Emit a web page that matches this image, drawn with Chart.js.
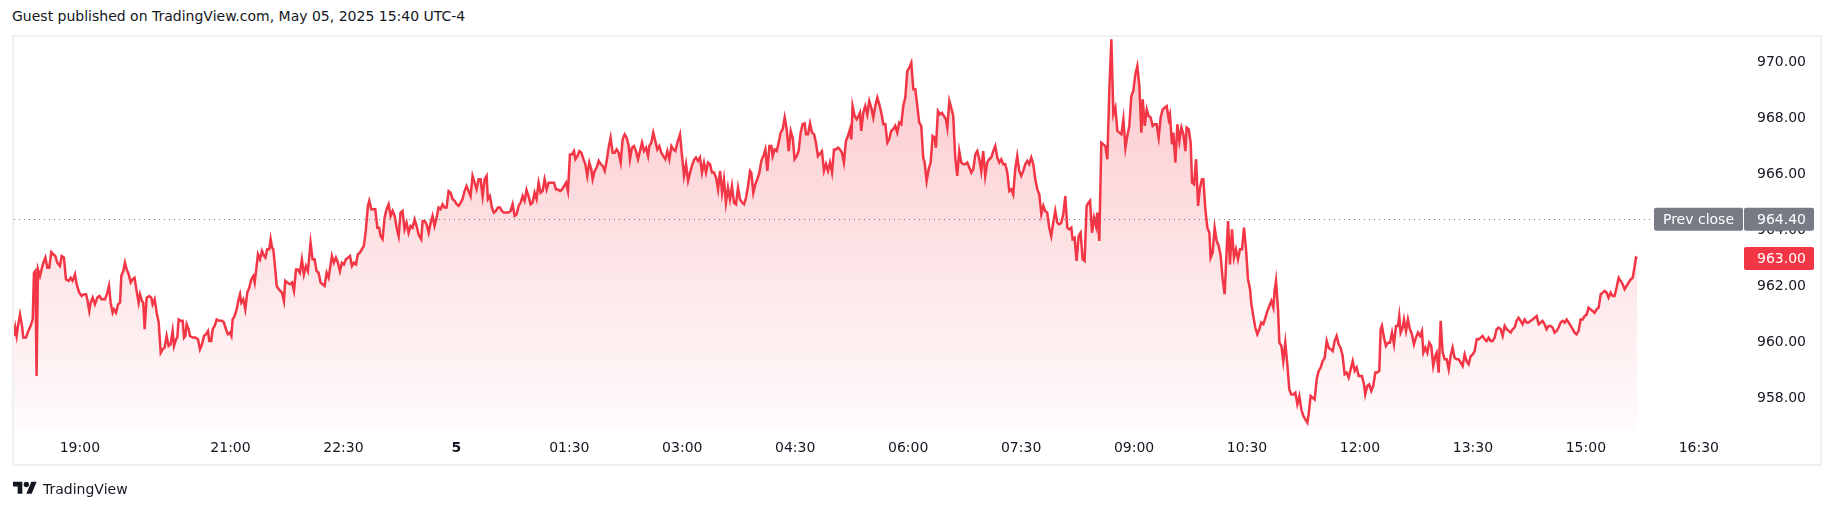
<!DOCTYPE html>
<html>
<head>
<meta charset="utf-8">
<script src="https://cdn.jsdelivr.net/npm/chart.js@4.4.1/dist/chart.umd.min.js"></script>
<style>
    body { margin: 0; background: #ffffff; width: 1835px; height: 513px; overflow: hidden; position: relative; font-family: "DejaVu Sans", sans-serif; color: #131722; }
    #cabecalho { position: absolute; left: 12px; top: 6px; font-size: 14px; line-height: 20px; }
    #moldura { position: absolute; left: 12px; top: 35px; width: 1810px; height: 431px; border: 2px solid #f0f0f0; box-sizing: border-box; pointer-events: none; }
    #rodape { position: absolute; left: 13px; top: 479px; font-size: 14px; line-height: 18px; display: flex; align-items: center; }
    #rodape svg { margin-right: 6px; }
    canvas { position: absolute; left: 0; top: 0; }
</style>
</head>
<body>
<div id="cabecalho">Guest published on TradingView.com, May 05, 2025 15:40 UTC-4</div>
<canvas id="grafico" width="1835" height="513"></canvas>
<div id="moldura"></div>
<div id="rodape">
    <svg width="24" height="19" viewBox="0 0 36 28"><path d="M14 22H7V11H0V4h14v18zM28 22h-8l7.5-18h8L28 22z" fill="#131722"/><circle cx="20" cy="8" r="4" fill="#131722"/></svg>
    <span>TradingView</span>
</div>
<script>
// minutos desde 18:00 de 04/05
var tempos = [
    7.5, 8.5, 9.6, 10.7, 12.3, 13.9, 14.9, 17.1, 18.9, 20.8, 22.4, 23.4, 24.5, 25.5, 26.6, 28.2, 29.5, 30.9, 32.5, 34.1,
    35.6, 37.2, 38.8, 40.4, 42.0, 44.1, 45.5, 47.3, 48.9, 51.1, 52.6, 54.2, 56.1, 57.4, 59.5, 61.4, 63.3, 64.9, 65.9, 67.5,
    68.6, 70.2, 72.0, 73.9, 75.5, 77.3, 80.0, 81.9, 83.2, 84.5, 86.1, 87.2, 88.8, 90.4, 92.0, 93.0, 94.6, 95.9, 97.3, 98.9,
    100.5, 102.0, 103.6, 105.2, 106.8, 107.9, 109.5, 110.5, 111.6, 113.2, 115.3, 116.9, 118.0, 119.6, 121.2, 122.8, 124.4, 125.9, 127.5, 129.1,
    130.7, 132.3, 133.9, 135.0, 136.6, 137.6, 138.7, 140.3, 141.9, 143.0, 144.0, 145.1, 146.7, 147.7, 149.9, 152.0, 154.1, 155.7, 157.3, 158.9,
    160.5, 162.1, 163.1, 164.7, 165.8, 167.4, 169.0, 171.1, 173.2, 174.8, 176.4, 178.0, 179.6, 180.7, 181.7, 183.3, 184.9, 186.5, 187.6, 188.6,
    190.2, 191.8, 193.4, 195.0, 196.6, 198.2, 199.3, 200.8, 201.9, 203.5, 205.1, 206.7, 207.8, 209.3, 210.9, 212.0, 213.1, 214.1, 215.7, 216.8,
    218.4, 221.0, 222.6, 223.6, 225.2, 227.4, 229.0, 230.6, 232.2, 233.7, 235.3, 236.9, 238.5, 240.1, 241.7, 243.8, 245.4, 247.0, 248.6, 250.2,
    251.8, 253.4, 255.0, 256.6, 258.2, 259.2, 260.8, 262.4, 264.0, 265.6, 267.2, 268.8, 270.4, 272.0, 273.6, 275.2, 276.8, 278.4, 280.0, 281.5,
    283.1, 284.7, 286.3, 287.9, 289.5, 290.6, 292.2, 293.8, 295.4, 297.0, 298.5, 299.6, 301.2, 302.8, 304.4, 306.0, 307.6, 309.2, 310.8, 312.4,
    314.0, 315.5, 317.1, 318.7, 320.3, 321.9, 323.5, 325.1, 326.7, 328.3, 329.9, 332.0, 333.1, 334.7, 336.3, 337.9, 339.5, 341.0, 342.6, 344.2,
    345.8, 347.4, 349.0, 350.6, 352.2, 353.8, 355.4, 357.0, 358.6, 360.2, 361.8, 363.4, 364.9, 366.5, 368.1, 369.7, 371.3, 372.9, 374.5, 376.1,
    377.7, 379.3, 380.9, 382.5, 384.1, 385.1, 386.7, 388.3, 389.9, 391.5, 393.1, 394.7, 396.3, 397.9, 400.0, 401.6, 403.2, 404.8, 406.4, 408.0,
    409.6, 411.2, 412.8, 414.3, 415.9, 417.5, 419.1, 420.7, 422.3, 423.9, 425.5, 427.1, 428.7, 430.3, 431.9, 433.5, 436.2, 437.8, 439.4, 441.0,
    442.6, 444.2, 445.8, 447.4, 448.9, 450.5, 452.1, 453.7, 454.8, 456.4, 458.0, 459.6, 461.2, 462.8, 464.3, 465.9, 467.5, 468.6, 470.2, 471.8,
    473.4, 475.0, 476.6, 478.2, 479.8, 481.3, 482.9, 484.5, 486.1, 487.7, 489.3, 490.9, 492.5, 494.1, 495.7, 497.3, 498.3, 499.9, 501.5, 503.1,
    504.7, 506.3, 507.9, 509.5, 511.1, 512.7, 513.7, 515.3, 516.9, 518.5, 520.1, 521.7, 523.3, 524.9, 526.5, 528.1, 529.7, 531.3, 532.9, 534.5,
    536.1, 538.2, 539.8, 541.4, 543.0, 544.6, 546.2, 547.7, 549.3, 550.9, 552.5, 554.1, 555.7, 557.3, 558.9, 560.5, 562.1, 563.7, 565.3, 566.9,
    568.5, 570.1, 571.7, 573.2, 574.8, 576.4, 578.0, 579.6, 581.2, 582.8, 584.4, 586.0, 587.6, 589.2, 590.8, 592.4, 594.0, 595.0, 596.6, 598.2,
    599.8, 601.4, 603.0, 604.6, 606.2, 607.8, 609.4, 611.0, 612.0, 613.6, 615.2, 616.8, 618.4, 620.0, 621.6, 623.2, 624.8, 626.4, 628.0, 629.5,
    631.1, 632.7, 634.3, 635.9, 637.5, 638.6, 640.2, 641.8, 643.4, 645.0, 646.5, 648.1, 651.3, 652.9, 654.5, 656.1, 657.7, 659.3, 660.9, 662.4,
    664.0, 665.6, 667.2, 668.8, 670.4, 672.0, 673.6, 674.7, 675.7, 677.3, 678.9, 680.5, 681.6, 682.6, 684.2, 685.8, 687.4, 689.0, 690.6, 692.2,
    693.8, 695.4, 697.0, 698.6, 700.2, 701.8, 703.4, 704.9, 706.5, 708.1, 709.7, 711.3, 712.9, 714.5, 716.1, 717.7, 719.3, 720.9, 722.5, 724.1,
    725.7, 727.3, 728.8, 730.4, 732.0, 733.1, 734.7, 736.3, 737.9, 739.5, 741.1, 742.1, 743.7, 745.3, 746.9, 748.5, 750.1, 751.2, 752.8, 754.3,
    755.9, 757.5, 759.1, 760.7, 762.3, 763.9, 765.5, 767.1, 768.7, 770.3, 771.9, 773.5, 775.1, 776.7, 778.2, 779.8, 781.4, 783.0, 784.6, 786.2,
    787.8, 789.4, 791.0, 792.6, 794.2, 795.8, 797.4, 799.0, 800.6, 802.2, 803.7, 805.3, 806.9, 808.5, 810.1, 811.7, 813.3, 814.9, 816.5, 818.1,
    819.7, 821.3, 822.9, 824.5, 826.1, 827.7, 829.2, 830.8, 832.4, 834.0, 835.6, 837.2, 838.8, 840.4, 842.0, 843.6, 845.2, 846.8, 848.4, 850.0,
    851.0, 852.6, 854.2, 855.8, 857.4, 859.0, 860.6, 862.2, 863.8, 864.9, 866.5, 868.1, 869.7, 870.7, 872.3, 873.9, 875.5, 877.1, 878.7, 880.3,
    881.9, 883.5, 885.1, 886.7, 888.3, 889.9, 891.5, 893.1, 894.6, 896.2, 897.8, 899.4, 901.0, 902.6, 904.2, 905.8, 906.9, 908.5, 910.1, 911.6,
    913.2, 914.8, 916.4, 918.0, 919.6, 921.2, 922.8, 924.4, 926.0, 927.6, 928.6, 930.2, 931.3, 932.9, 934.5, 936.1, 937.7, 939.3, 940.9, 941.9,
    943.5, 945.1, 946.2, 947.8, 949.4, 951.0, 952.5, 954.1, 955.2, 956.8, 958.4, 960.0, 961.0, 962.6, 964.2, 965.8, 967.4, 969.0, 970.6, 972.2,
    973.8, 974.9, 976.4, 978.0, 979.6, 981.2, 982.8, 984.4, 986.0, 987.6, 989.2, 990.8, 992.4, 993.5, 995.0, 996.6, 998.2, 999.8, 1001.4, 1003.0,
    1004.6, 1006.2, 1007.8, 1009.4, 1011.0, 1012.0, 1013.1, 1014.7, 1015.8, 1017.4, 1018.9, 1020.5, 1022.1, 1023.7, 1025.3, 1026.9, 1028.5, 1030.1, 1031.7, 1033.3,
    1034.9, 1036.5, 1038.1, 1039.1, 1040.7, 1042.3, 1043.9, 1045.5, 1047.1, 1048.7, 1050.3, 1051.9, 1053.5, 1055.1, 1056.7, 1058.3, 1059.8, 1061.4, 1063.0, 1064.6,
    1066.2, 1067.8, 1069.4, 1071.0, 1072.6, 1074.2, 1075.8, 1077.4, 1079.0, 1080.0, 1081.6, 1083.2, 1084.2, 1085.8, 1087.4, 1089.0, 1090.6, 1092.2, 1093.8, 1095.4,
    1096.5, 1097.5, 1099.1, 1100.7, 1102.3, 1103.9, 1105.5, 1107.1, 1108.7, 1110.3, 1111.3, 1112.4, 1114.0, 1115.1, 1116.7, 1118.2, 1119.8, 1121.4, 1123.0, 1124.6,
    1126.2, 1127.8, 1129.4, 1130.5, 1132.1, 1133.7, 1135.2, 1136.8, 1138.4, 1140.0, 1141.1, 1142.7, 1144.3, 1145.9, 1147.5, 1149.1, 1150.7, 1152.2, 1153.8, 1155.4,
    1157.0, 1158.6, 1160.2, 1161.8, 1163.4, 1165.0, 1166.6, 1168.2, 1169.8, 1171.4, 1173.0, 1174.6, 1176.1, 1177.7, 1179.3, 1180.9, 1182.5, 1184.1, 1185.7, 1187.3,
    1188.9, 1190.5, 1192.1, 1193.7, 1195.3, 1196.9, 1198.5, 1200.1, 1201.6, 1203.2, 1204.8, 1206.4, 1208.0, 1209.6, 1211.2, 1212.8, 1214.4, 1216.0, 1217.6, 1219.2,
    1220.8, 1222.4, 1224.0, 1225.5, 1227.1, 1228.7, 1230.3, 1231.9, 1233.5, 1235.1, 1236.7, 1238.3, 1239.9, 1241.5, 1243.1, 1244.7, 1246.3, 1247.9, 1249.5, 1251.0,
    1252.6, 1254.2, 1255.8, 1257.4, 1259.0, 1260.6, 1262.2, 1263.8, 1265.4, 1267.0, 1268.6, 1270.2, 1271.8, 1273.4, 1274.9, 1276.5, 1278.1, 1279.7, 1281.3, 1282.9,
    1284.5, 1286.1, 1287.7, 1289.3, 1290.9, 1292.5, 1294.1, 1295.7, 1297.3, 1298.9, 1299.9, 1301.0
];

var precos = [
    960.23, 960.53, 960.23, 960.59, 961.00, 960.59, 960.17, 960.17, 960.41, 960.59, 960.82, 962.49, 962.55, 958.80, 962.61, 962.37, 962.61, 962.85, 963.03, 962.67,
    962.67, 963.23, 963.15, 963.09, 962.85, 962.73, 963.09, 963.03, 962.25, 962.20, 962.31, 962.20, 962.43, 962.08, 961.78, 961.66, 961.72, 961.72, 961.54, 961.12,
    961.42, 961.60, 961.36, 961.60, 961.66, 961.54, 961.54, 961.78, 962.02, 961.42, 961.06, 961.18, 961.06, 961.36, 961.42, 962.37, 962.55, 962.85, 962.61, 962.43,
    962.14, 962.25, 962.31, 961.84, 961.42, 961.72, 961.48, 961.42, 960.47, 961.60, 961.66, 961.60, 961.36, 961.54, 961.06, 960.71, 959.63, 959.75, 959.81, 960.23,
    959.87, 959.93, 960.41, 959.87, 960.11, 960.17, 960.82, 960.77, 960.77, 960.17, 960.23, 960.65, 960.47, 960.23, 960.17, 960.17, 960.11, 959.75, 959.93, 960.23,
    960.29, 960.41, 960.05, 960.05, 960.47, 960.59, 960.82, 960.77, 960.77, 960.71, 960.47, 960.29, 960.35, 960.23, 960.82, 960.94, 961.18, 961.54, 961.72, 961.42,
    961.54, 961.18, 961.78, 961.96, 962.25, 962.37, 962.14, 962.73, 963.15, 962.97, 963.27, 963.09, 963.03, 963.33, 963.33, 963.69, 963.39, 963.33, 962.61, 962.02,
    961.90, 961.78, 961.48, 962.20, 962.14, 962.08, 962.14, 961.84, 962.61, 962.61, 962.49, 962.97, 962.43, 962.73, 962.55, 963.57, 962.97, 962.97, 962.55, 962.49,
    962.14, 962.08, 962.02, 962.49, 962.31, 962.61, 963.09, 962.85, 963.03, 962.85, 962.55, 962.85, 962.79, 962.97, 963.03, 963.09, 962.73, 962.85, 962.79, 963.15,
    963.21, 963.33, 963.45, 964.04, 964.88, 965.06, 964.76, 964.76, 964.76, 964.10, 964.10, 963.80, 963.69, 964.46, 964.76, 964.94, 964.52, 964.70, 964.52, 964.10,
    963.80, 964.64, 964.70, 964.04, 964.28, 963.92, 964.16, 964.10, 964.40, 964.16, 963.86, 963.69, 964.34, 964.34, 964.22, 963.92, 964.28, 964.52, 964.16, 964.46,
    964.82, 964.76, 964.94, 964.82, 964.82, 965.41, 965.35, 965.12, 965.06, 964.94, 964.88, 965.00, 965.12, 965.41, 965.59, 965.41, 965.23, 965.95, 965.71, 965.47,
    965.83, 965.83, 965.23, 965.83, 965.95, 965.12, 965.23, 964.82, 964.64, 964.70, 964.82, 964.82, 964.70, 964.64, 964.64, 964.64, 964.70, 964.94, 964.52, 964.58,
    964.88, 965.00, 965.23, 965.06, 965.45, 965.23, 964.94, 965.00, 965.35, 965.12, 965.71, 965.35, 965.41, 965.83, 965.47, 965.71, 965.71, 965.71, 965.47, 965.47,
    965.41, 965.47, 965.59, 965.71, 965.41, 966.72, 966.72, 966.84, 966.55, 966.66, 966.84, 966.78, 966.55, 966.37, 965.95, 966.43, 966.19, 965.83, 966.13, 966.25,
    966.49, 966.37, 966.31, 966.13, 966.49, 966.96, 967.32, 966.78, 966.78, 966.90, 966.78, 966.43, 967.26, 967.44, 967.32, 967.02, 966.55, 966.96, 967.02, 966.84,
    966.55, 966.84, 967.14, 966.84, 966.96, 966.66, 967.02, 967.14, 967.50, 967.20, 966.90, 967.02, 966.78, 966.66, 966.55, 966.84, 966.55, 967.02, 966.90, 966.84,
    967.14, 967.44, 966.66, 965.95, 966.37, 965.77, 966.07, 966.31, 966.52, 966.61, 966.49, 966.61, 966.07, 966.43, 966.07, 966.43, 966.37, 966.07, 966.07, 965.89,
    965.47, 966.13, 965.35, 965.83, 965.00, 965.53, 965.12, 965.59, 965.00, 964.94, 965.53, 965.12, 965.00, 964.94, 965.17, 965.59, 966.13, 966.07, 965.35, 965.65,
    965.83, 966.07, 966.49, 966.66, 966.90, 966.13, 967.02, 967.02, 966.66, 966.90, 966.84, 967.14, 967.50, 967.62, 968.04, 967.62, 966.84, 967.56, 967.32, 966.55,
    966.66, 966.84, 967.50, 967.80, 967.83, 967.44, 967.44, 967.83, 967.50, 967.44, 967.14, 966.66, 966.84, 966.13, 966.37, 966.13, 966.43, 966.07, 966.90, 966.90,
    966.96, 966.90, 966.78, 966.43, 967.20, 967.38, 967.62, 967.26, 968.45, 968.10, 967.98, 968.10, 968.21, 967.56, 968.21, 968.45, 968.15, 968.63, 968.39, 968.04,
    968.45, 968.75, 968.51, 968.21, 967.80, 967.80, 967.14, 967.26, 967.56, 967.62, 967.74, 967.50, 967.86, 967.80, 968.45, 968.75, 969.70, 969.82, 970.00, 969.05,
    969.05, 968.45, 967.86, 967.74, 966.61, 966.43, 965.77, 966.19, 966.43, 967.38, 967.32, 966.96, 968.27, 968.15, 968.21, 968.10, 967.98, 967.68, 968.63, 968.39,
    968.10, 966.61, 965.95, 966.84, 966.43, 966.37, 966.37, 966.43, 966.25, 966.07, 966.19, 966.72, 966.84, 966.55, 966.13, 966.84, 965.95, 966.43, 966.55, 966.61,
    966.84, 967.02, 966.61, 966.43, 966.55, 966.37, 966.37, 966.07, 965.41, 965.47, 965.29, 966.19, 966.66, 966.13, 965.95, 966.13, 966.37, 966.49, 966.37, 966.61,
    966.37, 965.83, 965.47, 965.29, 964.58, 964.88, 964.70, 964.64, 964.10, 963.80, 964.28, 964.70, 964.28, 964.22, 964.28, 964.58, 965.23, 964.10, 964.04, 964.10,
    963.69, 963.74, 962.91, 963.80, 963.92, 962.97, 962.91, 964.88, 965.00, 965.06, 963.92, 964.46, 964.16, 964.64, 963.63, 967.14, 967.08, 967.02, 966.55, 969.05,
    970.84, 968.15, 968.39, 967.56, 967.50, 967.44, 967.98, 966.96, 967.38, 967.74, 968.81, 968.99, 969.58, 969.88, 969.17, 967.50, 968.69, 967.74, 968.33, 968.10,
    968.04, 967.74, 967.80, 967.80, 967.32, 968.04, 968.33, 968.39, 968.45, 967.98, 968.15, 967.08, 967.50, 966.43, 967.80, 967.20, 967.68, 967.44, 966.84, 967.68,
    967.62, 967.14, 965.71, 965.65, 966.55, 964.88, 965.53, 965.83, 965.83, 964.76, 964.10, 963.92, 963.03, 963.21, 964.10, 963.63, 963.45, 963.09, 962.25, 961.72,
    963.33, 964.34, 962.79, 964.04, 963.03, 963.33, 962.97, 963.33, 963.33, 964.10, 963.33, 962.25, 961.90, 961.36, 960.94, 960.53, 960.29, 960.47, 960.71, 960.65,
    960.88, 961.12, 961.30, 961.48, 961.24, 961.84, 962.20, 961.18, 959.99, 959.87, 959.33, 959.99, 959.22, 958.32, 958.14, 958.14, 958.20, 957.79, 958.08, 957.60,
    957.37, 957.25, 957.13, 957.43, 958.08, 958.02, 957.96, 958.68, 958.98, 959.10, 959.33, 959.45, 960.05, 959.81, 959.75, 959.69, 960.05, 960.23, 959.93, 959.81,
    959.51, 958.86, 958.92, 958.74, 959.04, 959.33, 958.98, 959.10, 958.80, 958.80, 958.80, 958.50, 958.14, 958.44, 958.50, 958.26, 958.44, 958.92, 958.92, 958.98,
    960.47, 960.59, 960.17, 959.87, 959.99, 959.99, 960.35, 959.93, 960.59, 960.59, 960.94, 960.35, 960.53, 960.82, 960.41, 960.82, 960.47, 960.29, 959.93, 960.17,
    960.35, 960.23, 960.41, 959.63, 959.81, 959.63, 959.99, 959.87, 959.16, 959.51, 959.63, 958.92, 960.77, 959.63, 959.40, 959.40, 959.04, 959.51, 959.81, 959.45,
    959.40, 959.40, 959.28, 959.16, 959.57, 959.33, 959.22, 959.51, 959.57, 959.69, 960.11, 960.11, 960.17, 960.23, 960.11, 960.05, 960.17, 960.05, 960.05, 960.17,
    960.47, 960.53, 960.47, 960.23, 960.59, 960.47, 960.41, 960.35, 960.47, 960.53, 960.77, 960.88, 960.77, 960.65, 960.82, 960.71, 960.71, 960.77, 960.82, 960.88,
    960.94, 960.65, 960.71, 960.77, 960.65, 960.47, 960.59, 960.59, 960.53, 960.35, 960.41, 960.53, 960.71, 960.77, 960.71, 960.82, 960.71, 960.59, 960.47, 960.35,
    960.29, 960.41, 960.82, 960.82, 960.94, 961.00, 961.24, 961.18, 961.12, 961.06, 961.18, 961.24, 961.72, 961.78, 961.84, 961.78, 961.60, 961.78, 961.66, 961.66,
    961.96, 962.31, 962.20, 962.08, 961.90, 962.02, 962.14, 962.25, 962.31, 962.73, 963.03, 963.00
];

// eixo x (minutos desde 18:00) e rótulos
var xTicks = [60, 180, 270, 360, 450, 540, 630, 720, 810, 900, 990, 1080, 1170, 1260, 1350];
var xRotulos = ['19:00', '21:00', '22:30', '5', '01:30', '03:00', '04:30', '06:00', '07:30', '09:00', '10:30', '12:00', '13:30', '15:00', '16:30'];
var yTicks = [958, 960, 962, 964, 966, 968, 970];

var fechamentoAnterior = 964.40;
var ultimoPreco = 963.00;

var vermelho = '#f23645';
var fonte = '"DejaVu Sans", sans-serif';

// linha pontilhada e etiquetas de preço no eixo direito
var linhasPreco = {
    id: 'linhasPreco',
    afterDatasetsDraw: function (chart) {
        var ctx = chart.ctx;
        var area = chart.chartArea;
        var y = Math.round(chart.scales.y.getPixelForValue(fechamentoAnterior)) + 0.5;
        ctx.save();
        ctx.strokeStyle = '#787b86';
        ctx.lineWidth = 1;
        ctx.setLineDash([1, 4]);
        ctx.beginPath();
        ctx.moveTo(area.left, y);
        ctx.lineTo(area.right, y);
        ctx.stroke();
        ctx.restore();
    },
    afterDraw: function (chart) {
        var ctx = chart.ctx;
        var area = chart.chartArea;
        var escalaY = chart.scales.y;
        var xTexto = 1806;
        var alt = 23;

        ctx.save();
        ctx.font = '14px ' + fonte;
        ctx.textBaseline = 'middle';

        // Prev close
        var yP = escalaY.getPixelForValue(fechamentoAnterior);
        ctx.fillStyle = '#787b86';
        ctx.beginPath();
        ctx.roundRect(area.right - 91, yP - alt / 2, 89, alt, 2);
        ctx.fill();
        ctx.beginPath();
        ctx.roundRect(area.right - 1, yP - alt / 2, 70, alt, 2);
        ctx.fill();
        ctx.fillStyle = '#ffffff';
        ctx.textAlign = 'center';
        ctx.fillText('Prev close', area.right - 91 + 89 / 2, yP + 1);
        ctx.textAlign = 'right';
        ctx.fillText(fechamentoAnterior.toFixed(2), xTexto, yP + 1);

        // último preço
        var yU = escalaY.getPixelForValue(ultimoPreco);
        ctx.fillStyle = vermelho;
        ctx.beginPath();
        ctx.roundRect(area.right - 1, yU - alt / 2, 70, alt, 2);
        ctx.fill();
        ctx.fillStyle = '#ffffff';
        ctx.fillText(ultimoPreco.toFixed(2), xTexto, yU + 1);
        ctx.restore();
    }
};

var pontos = tempos.map(function (t, i) {
    return { x: t, y: precos[i] };
});

var ctx = document.getElementById('grafico').getContext('2d');
var grafico = new Chart(ctx, {
    type: 'line',
    data: {
        datasets: [{
            data: pontos,
            borderColor: vermelho,
            borderWidth: 2.5,
            pointRadius: 0,
            tension: 0,
            fill: 'start',
            backgroundColor: function (context) {
                var area = context.chart.chartArea;
                if (!area) {
                    return 'rgba(242,54,69,0.1)';
                }
                var g = context.chart.ctx.createLinearGradient(0, area.top, 0, area.bottom);
                g.addColorStop(0, 'rgba(242,54,69,0.28)');
                g.addColorStop(1, 'rgba(242,54,69,0.02)');
                return g;
            }
        }]
    },
    options: {
        responsive: false,
        animation: false,
        layout: {
            padding: { left: 14, top: 37, right: 13, bottom: 48 }
        },
        plugins: {
            legend: { display: false },
            tooltip: { enabled: false }
        },
        scales: {
            x: {
                type: 'linear',
                min: 7.5,
                max: 1386.8,
                grid: { display: false, drawTicks: false },
                border: { display: false },
                afterBuildTicks: function (scale) {
                    scale.ticks = xTicks.map(function (v) { return { value: v }; });
                },
                afterFit: function (scale) {
                    scale.height = 35;
                },
                ticks: {
                    autoSkip: false,
                    maxRotation: 0,
                    padding: 10,
                    color: '#131722',
                    font: function (c) {
                        var negrito = c.tick && c.tick.value === 360;
                        return { family: fonte, size: 14, weight: negrito ? 'bold' : 'normal' };
                    },
                    callback: function (valor, indice) {
                        return xRotulos[indice];
                    }
                }
            },
            y: {
                position: 'right',
                min: 956.867,
                max: 970.919,
                grid: { display: false, drawTicks: false },
                border: { display: false },
                afterBuildTicks: function (scale) {
                    scale.ticks = yTicks.map(function (v) { return { value: v }; });
                },
                afterFit: function (scale) {
                    scale.width = 77;
                },
                ticks: {
                    crossAlign: 'near',
                    padding: 12,
                    color: '#131722',
                    font: { family: fonte, size: 14 },
                    callback: function (valor) {
                        return valor.toFixed(2);
                    }
                }
            }
        }
    },
    plugins: [linhasPreco]
});
</script>
</body>
</html>
